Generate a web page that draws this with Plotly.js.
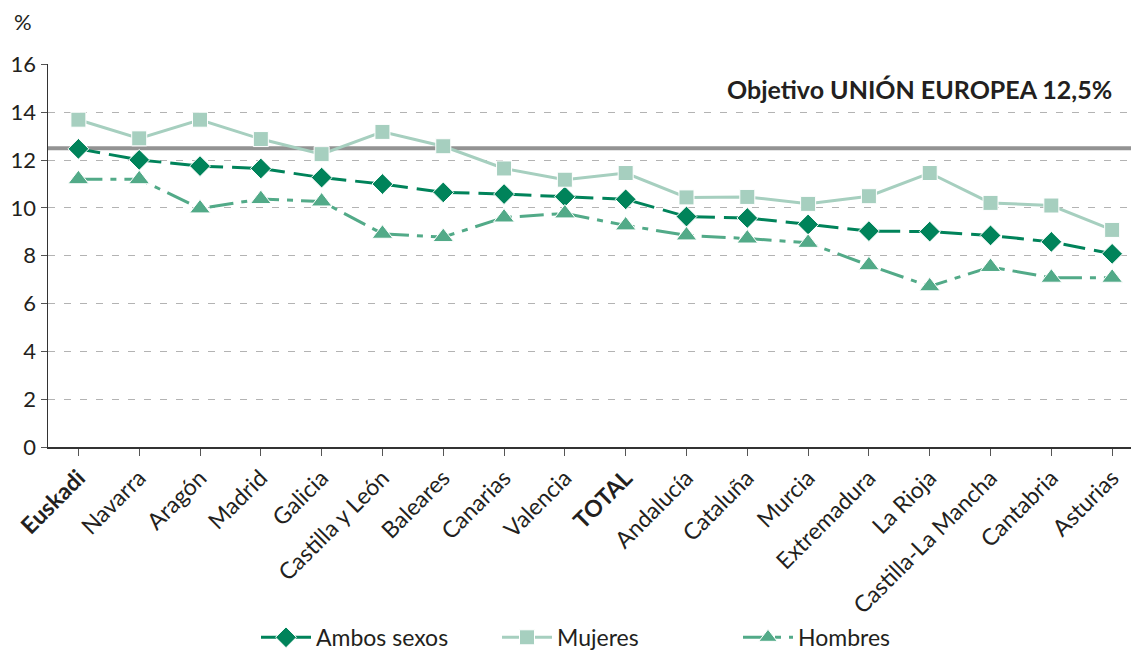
<!DOCTYPE html>
<html>
<head>
<meta charset="utf-8">
<script src="https://cdn.plot.ly/plotly-3.0.1.min.js"></script>
<style>html,body{margin:0;padding:0;background:#fff;}#chart{width:1131px;height:650px;}</style>
</head>
<body>
<div id="chart"></div>
<script>
const categories = ["Euskadi","Navarra","Aragón","Madrid","Galicia","Castilla y León","Baleares","Canarias","Valencia","TOTAL","Andalucía","Cataluña","Murcia","Extremadura","La Rioja","Castilla-La Mancha","Cantabria","Asturias"];
const tickLabels = ["<b>Euskadi</b>","Navarra","Aragón","Madrid","Galicia","Castilla y León","Baleares","Canarias","Valencia","<b>TOTAL</b>","Andalucía","Cataluña","Murcia","Extremadura","La Rioja","Castilla-La Mancha","Cantabria","Asturias"];
const ambosSexos = [12.47,12.01,11.75,11.65,11.27,11.0,10.65,10.58,10.47,10.36,9.64,9.58,9.31,9.03,9.01,8.85,8.58,8.08];
const mujeres = [13.69,12.91,13.69,12.88,12.25,13.18,12.58,11.65,11.18,11.46,10.44,10.46,10.17,10.49,11.46,10.21,10.1,9.08];
const hombres = [11.2,11.2,9.98,10.37,10.27,8.92,8.78,9.6,9.77,9.27,8.85,8.72,8.54,7.6,6.72,7.53,7.08,7.08];
const objetivoUE = 12.5;
const yTicks = [0,2,4,6,8,10,12,14,16];

const idx = categories.map((c,i)=>i);
const FONT = "Lato, 'Open Sans', sans-serif";

const traces = [
  {x: idx, y: ambosSexos, name: "Ambos sexos", mode: "lines+markers", type: "scatter",
   line: {color: "#00835a", width: 3, dash: "22px,9px"},
   marker: {symbol: "diamond", size: 16, color: "#00835a", line: {width: 1, color: "#ffffff"}}},
  {x: idx, y: mujeres, name: "Mujeres", mode: "lines+markers", type: "scatter",
   line: {color: "#a6cfbf", width: 3},
   marker: {symbol: "square", size: 15, color: "#a6cfbf", line: {width: 1, color: "#ffffff"}}},
  {x: idx, y: hombres, name: "Hombres", mode: "lines+markers", type: "scatter",
   line: {color: "#52aa88", width: 3, dash: "24px,8px,6px,8px"},
   marker: {symbol: "triangle-up", size: 18, color: "#52aa88", line: {width: 1, color: "#ffffff"}}}
];

const layout = {
  width: 1131, height: 650,
  margin: {l: 48, r: 0, t: 64, b: 203, autoexpand: false},
  paper_bgcolor: "#fff", plot_bgcolor: "#fff",
  font: {family: FONT, color: "#231f20", size: 20},
  showlegend: true,
  legend: {orientation: "h", x: (256-48)/1083, xanchor: "left", y: -0.497, yanchor: "middle",
           bgcolor: "rgba(0,0,0,0)",
           font: {size: 23, family: FONT, color: "#231f20"}, itemwidth: 50, tracegroupgap: 0,
           entrywidth: 176, entrywidthmode: "pixels"},
  xaxis: {
    range: [-0.5, 17.31], tickmode: "array", tickvals: idx, ticktext: tickLabels,
    tickangle: -45, tickson: "boundaries", ticks: "outside", ticklen: 7, tickcolor: "#555",
    showline: true, linecolor: "#333", linewidth: 1.5, showgrid: false, zeroline: false,
    tickfont: {size: 23, family: FONT, color: "#231f20"}, fixedrange: true, automargin: false
  },
  yaxis: {
    range: [0, 16.02], tickmode: "array", tickvals: yTicks, ticks: "outside", ticklen: 6, tickcolor: "#555",
    showline: true, linecolor: "#333", linewidth: 1.5, zeroline: false,
    showgrid: true, gridcolor: "#b3b3b3", griddash: "7px,9px", gridwidth: 1,
    tickfont: {size: 22, family: FONT, color: "#231f20"}, fixedrange: true, automargin: false
  },
  shapes: [
    {type: "line", xref: "paper", x0: 0, x1: 1, yref: "y", y0: objetivoUE, y1: objetivoUE,
     line: {color: "#939393", width: 4}, layer: "below"}
  ],
  annotations: [
    {text: "<b>Objetivo UNIÓN EUROPEA 12,5%</b>", xref: "paper", yref: "paper", x: (1114-48)/1083, y: (447-89)/383,
     xanchor: "right", yanchor: "middle", showarrow: false, font: {size: 25, family: FONT, color: "#231f20"}},
    {text: "%", xref: "paper", yref: "paper", x: (12-48)/1083, y: (447-22)/383, xanchor: "left", yanchor: "middle",
     showarrow: false, font: {size: 22, family: FONT, color: "#231f20"}}
  ]
};

Plotly.newPlot("chart", traces, layout, {displayModeBar: false, staticPlot: true});
</script>
</body>
</html>
